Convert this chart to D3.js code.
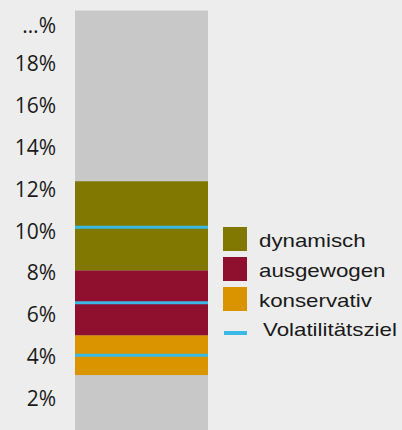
<!DOCTYPE html>
<html>
<head>
<meta charset="utf-8">
<script src="https://cdn.jsdelivr.net/npm/d3@7"></script>
<style>
  html, body { margin: 0; padding: 0; background: #ededed; }
  svg { display: block; }
</style>
</head>
<body>
<div id="chart"></div>
<script>
// Daten
var profiles = ["konservativ", "ausgewogen", "dynamisch"];
var rangeLow = [3.1, 5.0, 8.1];
var rangeHigh = [5.0, 8.1, 12.35];
var volaTarget = [4.05, 6.55, 10.15];
var colors = ["#d99400", "#8e0f2e", "#807800"];
var lineColor = "#3ab8e6";
var columnMax = 20.5;
var tickValues = [2, 4, 6, 8, 10, 12, 14, 16, 18, 19.8];
var tickLabels = ["2%", "4%", "6%", "8%", "10%", "12%", "14%", "16%", "18%", "…%"];
var legendNames = ["dynamisch", "ausgewogen", "konservativ"];
var lineLegend = "Volatilitätsziel";

var cfg = { w: 402, h: 430 };

var svg = d3.select("#chart").append("svg")
    .attr("width", cfg.w)
    .attr("height", cfg.h);

var x = d3.scaleBand().domain(["alle"]).range([75, 208]);
var y = d3.scaleLinear().domain([0, 20]).range([440, 21]);

// grauer Hintergrundbalken
svg.append("rect")
    .attr("x", x("alle"))
    .attr("width", x.bandwidth())
    .attr("y", y(columnMax))
    .attr("height", y(0) - y(columnMax))
    .attr("fill", "#c8c8c8");

// Bandbreiten
var data = profiles.map(function (p, i) {
    return { name: p, lo: rangeLow[i], hi: rangeHigh[i], target: volaTarget[i], color: colors[i] };
});

svg.selectAll(".band")
    .data(data)
    .enter()
    .append("rect")
    .classed("band", true)
    .attr("x", x("alle"))
    .attr("width", x.bandwidth())
    .attr("y", function (d) { return y(d.hi); })
    .attr("height", function (d) { return y(d.lo) - y(d.hi); })
    .attr("fill", function (d) { return d.color; });

svg.selectAll(".target")
    .data(data)
    .enter()
    .append("line")
    .classed("target", true)
    .attr("x1", x("alle"))
    .attr("x2", x("alle") + x.bandwidth())
    .attr("y1", function (d) { return y(d.target); })
    .attr("y2", function (d) { return y(d.target); })
    .attr("stroke", lineColor)
    .attr("stroke-width", 3);

// y-Achse
var yAxis = d3.axisLeft(y)
    .tickValues(tickValues)
    .tickSize(0)
    .tickPadding(19)
    .tickFormat(function (d, i) { return tickLabels[i]; });

svg.append("g")
    .classed("yAxis", true)
    .attr("transform", "translate(75,0)")
    .call(function (g) {
        g.call(yAxis);
        g.select(".domain").remove();
        g.attr("font-family", "'Open Sans'").attr("font-size", 21);
        g.selectAll(".tick text")
            .attr("dy", "0.36em")
            .attr("fill", "#1a1a1a")
            .style("font-family", "'Open Sans'")
            .style("font-size", "21px");
    });

// Legende
var legend = svg.append("g")
    .classed("legend", true)
    .style("font-family", "'Liberation Sans', Arial, sans-serif")
    .style("font-size", "18.6px")
    .attr("fill", "#1a1a1a");
var legendColors = [colors[2], colors[1], colors[0]];

legendNames.forEach(function (name, i) {
    var top = 227 + i * 30;
    legend.append("rect")
        .attr("x", 223)
        .attr("y", top)
        .attr("width", 24)
        .attr("height", 24)
        .attr("fill", legendColors[i]);
    legend.append("text")
        .attr("transform", "translate(259," + (top + 19.7) + ") scale(1.2,1)")
        .text(name);
});

legend.append("line")
    .attr("x1", 224)
    .attr("x2", 247)
    .attr("y1", 333)
    .attr("y2", 333)
    .attr("stroke", lineColor)
    .attr("stroke-width", 4);
legend.append("text")
    .attr("transform", "translate(263,336) scale(1.2,1)")
    .text(lineLegend);
</script>
</body>
</html>
